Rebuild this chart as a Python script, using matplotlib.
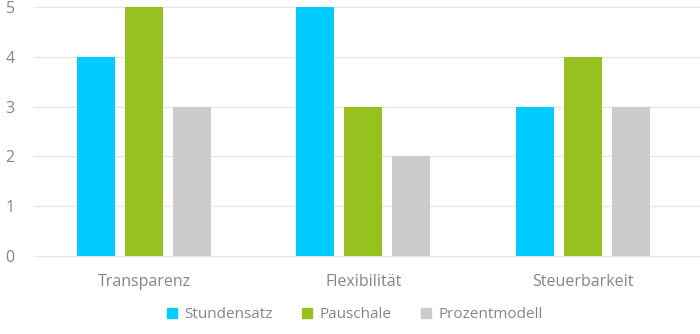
import numpy as np
import matplotlib
matplotlib.use('Agg')
import matplotlib.pyplot as plt
from matplotlib.patches import Patch

# ============== DATA ==============
categories = ['Transparenz', 'Flexibilität', 'Steuerbarkeit']
series_names = ['Stundensatz', 'Pauschale', 'Prozentmodell']
stundensatz = [4, 5, 3]
pauschale = [5, 3, 4]
prozentmodell = [3, 2, 3]
y_ticks = [0, 1, 2, 3, 4, 5]
# ==================================

colors = ['#00CCFF', '#97C11F', '#CCCCCC']
text_color = '#858585'

plt.rcParams['font.family'] = ['Open Sans', 'DejaVu Sans']

fig = plt.figure(figsize=(7, 3.34), dpi=100)
ax = fig.add_axes([0.049, 0.2335, 0.94, 0.7455])

x = np.arange(len(categories))
width = 0.1735
step = 0.219
for i, (vals, name, col) in enumerate(zip([stundensatz, pauschale, prozentmodell], series_names, colors)):
    ax.bar(x + (i - 1) * step, vals, width, color=col, label=name, zorder=3)

ax.set_xlim(-0.5, len(categories) - 0.5)
ax.set_ylim(0, 5)
ax.set_yticks(y_ticks)
ax.set_xticks(x)
ax.set_xticklabels(categories)
# grid lines run to the right edge of the figure
for yt in y_ticks:
    ax.axhline(yt, xmin=0, xmax=1.02, color='#E6E6E6', lw=1, zorder=0, clip_on=False)
for s in ax.spines.values():
    s.set_visible(False)
ax.tick_params(axis='both', length=0, colors=text_color, labelsize=11.5)
ax.tick_params(axis='x', pad=13)
ax.tick_params(axis='y', pad=14)

handles = [Patch(color=c, label=n) for c, n in zip(colors, series_names)]
leg = fig.legend(handles=handles, loc='center', bbox_to_anchor=(0.507, 0.058), ncol=3,
                 frameon=False, fontsize=11, handlelength=0.65, handleheight=0.65,
                 handletextpad=0.5, columnspacing=1.9)
for t in leg.get_texts():
    t.set_color(text_color)

fig.savefig('out.png', dpi=100)
